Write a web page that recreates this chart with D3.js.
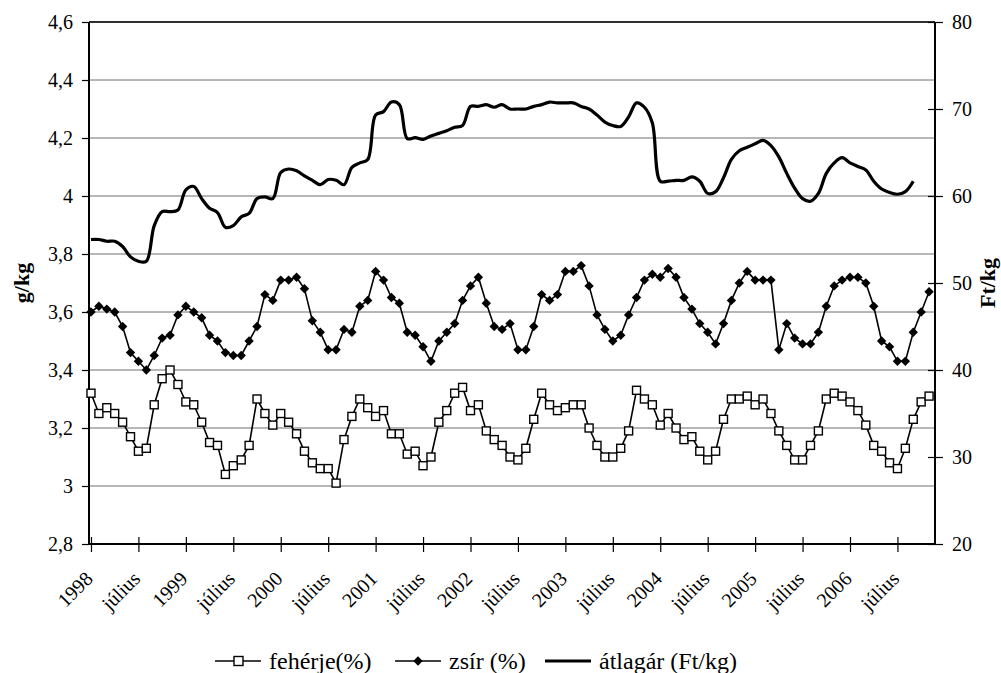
<!DOCTYPE html>
<html>
<head>
<meta charset="utf-8">
<script src="https://cdn.jsdelivr.net/npm/d3@7/dist/d3.min.js"></script>
<style>
  body { margin: 0; background: #fff; }
  svg { font-family: "Liberation Serif", "Times New Roman", serif; }
</style>
</head>
<body>
<div id="chart"></div>
<script>
// monthly values from 1998 January
const feherje = [3.32, 3.25, 3.27, 3.25, 3.22, 3.17, 3.12, 3.13, 3.28, 3.37, 3.40, 3.35,
  3.29, 3.28, 3.22, 3.15, 3.14, 3.04, 3.07, 3.09, 3.14, 3.30, 3.25, 3.21,
  3.25, 3.22, 3.18, 3.12, 3.08, 3.06, 3.06, 3.01, 3.16, 3.24, 3.30, 3.27,
  3.24, 3.26, 3.18, 3.18, 3.11, 3.12, 3.07, 3.10, 3.22, 3.26, 3.32, 3.34,
  3.26, 3.28, 3.19, 3.16, 3.14, 3.10, 3.09, 3.13, 3.23, 3.32, 3.28, 3.26,
  3.27, 3.28, 3.28, 3.20, 3.14, 3.10, 3.10, 3.13, 3.19, 3.33, 3.30, 3.28,
  3.21, 3.25, 3.20, 3.16, 3.17, 3.12, 3.09, 3.12, 3.23, 3.30, 3.30, 3.31,
  3.28, 3.30, 3.25, 3.19, 3.14, 3.09, 3.09, 3.14, 3.19, 3.30, 3.32, 3.31,
  3.29, 3.26, 3.21, 3.14, 3.12, 3.08, 3.06, 3.13, 3.23, 3.29, 3.31];

const zsir = [3.60, 3.62, 3.61, 3.60, 3.55, 3.46, 3.43, 3.40, 3.45, 3.51, 3.52, 3.59,
  3.62, 3.60, 3.58, 3.52, 3.50, 3.46, 3.45, 3.45, 3.50, 3.55, 3.66, 3.64,
  3.71, 3.71, 3.72, 3.68, 3.57, 3.53, 3.47, 3.47, 3.54, 3.53, 3.62, 3.64,
  3.74, 3.71, 3.65, 3.63, 3.53, 3.52, 3.48, 3.43, 3.50, 3.53, 3.56, 3.64,
  3.69, 3.72, 3.63, 3.55, 3.54, 3.56, 3.47, 3.47, 3.55, 3.66, 3.64, 3.66,
  3.74, 3.74, 3.76, 3.69, 3.59, 3.54, 3.50, 3.52, 3.59, 3.65, 3.71, 3.73,
  3.72, 3.75, 3.72, 3.65, 3.61, 3.56, 3.53, 3.49, 3.56, 3.64, 3.70, 3.74,
  3.71, 3.71, 3.71, 3.47, 3.56, 3.51, 3.49, 3.49, 3.53, 3.62, 3.69, 3.71,
  3.72, 3.72, 3.70, 3.62, 3.50, 3.48, 3.43, 3.43, 3.53, 3.60, 3.67];

const atlagar = [55.0, 55.0, 54.8, 54.8, 54.2, 53.0, 52.5, 52.5, 56.6, 58.2, 58.2, 58.4,
  60.7, 61.1, 59.7, 58.6, 58.1, 56.4, 56.6, 57.6, 58.0, 59.7, 59.9, 59.7,
  62.7, 63.1, 62.9, 62.3, 61.8, 61.3, 61.9, 61.8, 61.3, 63.3, 63.8, 64.2,
  69.3, 69.7, 70.8, 70.5, 66.6, 66.7, 66.5, 66.9, 67.2, 67.5, 67.9, 68.1,
  70.3, 70.3, 70.5, 70.2, 70.5, 70.0, 70.0, 70.0, 70.3, 70.5, 70.8, 70.7,
  70.7, 70.7, 70.3, 70.0, 69.3, 68.5, 68.1, 68.0, 69.1, 70.7, 70.2, 68.4,
  61.7, 61.7, 61.8, 61.8, 62.2, 61.7, 60.3, 60.5, 62.1, 64.2, 65.2, 65.6,
  66.0, 66.4, 65.8, 64.5, 62.6, 60.9, 59.7, 59.4, 60.3, 62.6, 63.8, 64.4,
  63.8, 63.4, 63.0, 61.7, 60.8, 60.4, 60.2, 60.5, 61.7];

const xLabels = ["1998", "július", "1999", "július", "2000", "július", "2001", "július",
  "2002", "július", "2003", "július", "2004", "július", "2005", "július", "2006", "július"];
const leftTicks = [2.8, 3, 3.2, 3.4, 3.6, 3.8, 4, 4.2, 4.4, 4.6];
const rightTicks = [20, 30, 40, 50, 60, 70, 80];
const seriesNames = ["fehérje(%)", "zsír (%)", "átlagár (Ft/kg)"];

const W = 1001, H = 673;
const plotL = 89, plotR = 935, plotT = 22, plotB = 544;

const svg = d3.select("#chart").append("svg")
  .attr("width", W)
  .attr("height", H);

const x = d3.scaleLinear().domain([-0.25, 106.75]).range([plotL, plotR]);
const yL = d3.scaleLinear().domain([2.8, 4.6]).range([plotB, plotT]);
const yR = d3.scaleLinear().domain([20, 80]).range([plotB, plotT]);

const comma = d => (+d.toFixed(1)).toString().replace(".", ",");

// gridlines
svg.append("g")
  .selectAll("line")
  .data(leftTicks.slice(1))
  .enter()
  .append("line")
  .attr("x1", plotL)
  .attr("x2", plotR)
  .attr("y1", d => yL(d))
  .attr("y2", d => yL(d))
  .attr("stroke", "#6e6e6e")
  .attr("stroke-width", 1);

// left axis
const gL = svg.append("g")
  .attr("transform", `translate(${plotL},0)`)
  .call(d3.axisLeft(yL).tickValues(leftTicks).tickSize(7).tickPadding(9).tickFormat(comma));

// right axis (ticks cross the line)
const gR = svg.append("g")
  .attr("transform", `translate(${plotR},0)`)
  .call(d3.axisRight(yR).tickValues(rightTicks).tickSize(8).tickPadding(9));
gR.selectAll(".tick line").attr("x1", -7);

// bottom axis
const tickIdx = xLabels.map((d, i) => i * 6);
const gB = svg.append("g")
  .attr("transform", `translate(0,${plotB})`)
  .call(d3.axisBottom(x).tickValues(tickIdx).tickSize(8).tickFormat(""));
gB.selectAll(".tick line").attr("y1", -7);

[gL, gR, gB].forEach(g => {
  g.select(".domain").attr("stroke", "#000").attr("stroke-width", 2);
  g.selectAll(".tick line").attr("stroke", "#000").attr("stroke-width", 1.2);
  g.selectAll("text")
    .attr("fill", "#000")
    .style("font-family", "'Liberation Serif', serif")
    .style("font-size", "20px");
});
gL.select(".domain").attr("d", `M0,${plotB}V${plotT}`);
gR.select(".domain").attr("d", `M0,${plotB}V${plotT}`);
gB.select(".domain").attr("d", `M${plotL},0H${plotR}`);

// top border
svg.append("line")
  .attr("x1", plotL).attr("x2", plotR)
  .attr("y1", plotT).attr("y2", plotT)
  .attr("stroke", "#000").attr("stroke-width", 1.5);

// rotated category labels
svg.append("g")
  .selectAll("text")
  .data(xLabels)
  .enter()
  .append("text")
  .attr("transform", (d, i) => `translate(${x(tickIdx[i]) + 3},${plotB + 36}) rotate(-45)`)
  .attr("text-anchor", "end")
  .style("font-size", "20px")
  .text(d => d);

// axis titles
svg.append("text")
  .attr("transform", `translate(29,${(plotT + plotB) / 2}) rotate(-90)`)
  .attr("text-anchor", "middle")
  .style("font-size", "22px")
  .style("font-weight", "bold")
  .text("g/kg");

svg.append("text")
  .attr("transform", `translate(995,${(plotT + plotB) / 2}) rotate(-90)`)
  .attr("text-anchor", "middle")
  .style("font-size", "22px")
  .style("font-weight", "bold")
  .text("Ft/kg");

// price line (secondary axis)
const priceLine = d3.line()
  .x((d, i) => x(i))
  .y(d => yR(d))
  .curve(d3.curveCatmullRom.alpha(0.5));

svg.append("path")
  .datum(atlagar)
  .attr("d", priceLine)
  .attr("fill", "none")
  .attr("stroke", "#000")
  .attr("stroke-width", 3.2)
  .attr("stroke-linejoin", "round");

const leftLine = d3.line()
  .x((d, i) => x(i))
  .y(d => yL(d));

// zsír
svg.append("path")
  .datum(zsir)
  .attr("d", leftLine)
  .attr("fill", "none")
  .attr("stroke", "#000")
  .attr("stroke-width", 1.6);

const diamond = d3.symbol().type(d3.symbolSquare).size(44);
svg.append("g")
  .selectAll("path")
  .data(zsir)
  .enter()
  .append("path")
  .attr("d", diamond)
  .attr("transform", (d, i) => `translate(${x(i)},${yL(d)}) rotate(45)`)
  .attr("fill", "#000");

// fehérje
svg.append("path")
  .datum(feherje)
  .attr("d", leftLine)
  .attr("fill", "none")
  .attr("stroke", "#000")
  .attr("stroke-width", 1.6);

svg.append("g")
  .selectAll("rect")
  .data(feherje)
  .enter()
  .append("rect")
  .attr("x", (d, i) => x(i) - 4)
  .attr("y", d => yL(d) - 4)
  .attr("width", 8)
  .attr("height", 8)
  .attr("fill", "#fff")
  .attr("stroke", "#000")
  .attr("stroke-width", 1.4);

// legend
const legendX = [215, 395, 545];
const legendY = 661;
const lg = svg.append("g");

seriesNames.forEach((name, k) => {
  const lx = legendX[k];
  lg.append("line")
    .attr("x1", lx).attr("x2", lx + 46)
    .attr("y1", legendY).attr("y2", legendY)
    .attr("stroke", "#000")
    .attr("stroke-width", k === 2 ? 3.2 : 1.6);
  if (k === 0) {
    lg.append("rect")
      .attr("x", lx + 19).attr("y", legendY - 4.5)
      .attr("width", 9).attr("height", 9)
      .attr("fill", "#fff").attr("stroke", "#000").attr("stroke-width", 1.4);
  }
  if (k === 1) {
    lg.append("path")
      .attr("d", diamond)
      .attr("transform", `translate(${lx + 23},${legendY}) rotate(45)`)
      .attr("fill", "#000");
  }
  lg.append("text")
    .attr("x", lx + 54)
    .attr("y", legendY + 8)
    .style("font-size", "24px")
    .text(name);
});
</script>
</body>
</html>
